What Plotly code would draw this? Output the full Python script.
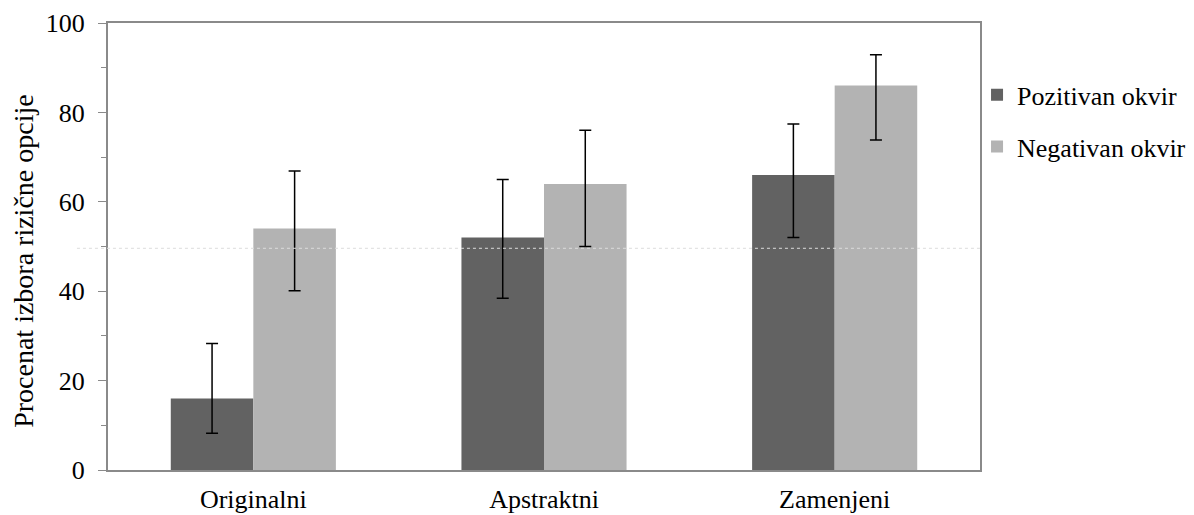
import plotly.graph_objects as go

categories = ["Originalni", "Apstraktni", "Zamenjeni"]
series_names = ["Pozitivan okvir", "Negativan okvir"]
pozitivan = [16, 52, 66]
pozitivan_err_plus = [12.3, 13.0, 11.4]
pozitivan_err_minus = [7.8, 13.6, 14.0]
negativan = [54, 64, 86]
negativan_err_plus = [12.9, 12.0, 6.9]
negativan_err_minus = [13.9, 14.0, 12.2]
reference_level = [49.6]
y_ticks = [0, 20, 40, 60, 80, 100]
y_title = "Procenat izbora rizične opcije"

FONT = "Liberation Serif, Times New Roman, serif"
FS = 26

fig = go.Figure()
fig.add_trace(go.Bar(
    name=series_names[0], x=categories, y=pozitivan,
    marker=dict(color="#626262", line=dict(width=0)),
    error_y=dict(type="data", symmetric=False, array=pozitivan_err_plus,
                 arrayminus=pozitivan_err_minus, color="black", thickness=1.5, width=6),
    legendgroup="a",
))
fig.add_trace(go.Bar(
    name=series_names[1], x=categories, y=negativan,
    marker=dict(color="#b3b3b3", line=dict(width=0)),
    error_y=dict(type="data", symmetric=False, array=negativan_err_plus,
                 arrayminus=negativan_err_minus, color="black", thickness=1.5, width=6),
    legendgroup="b",
))

fig.add_shape(type="line", xref="paper", yref="y",
              x0=-0.0356, x1=1.0034, y0=reference_level[0], y1=reference_level[0],
              line=dict(color="#dcdcdc", width=1, dash="dot"), layer="above")

fig.add_annotation(text=y_title, xref="paper", yref="paper",
                   x=-0.0963, y=0.468, xanchor="center", yanchor="middle",
                   textangle=-90, showarrow=False,
                   font=dict(family=FONT, size=28, color="black"))

fig.update_layout(
    width=1186, height=507,
    margin=dict(l=100, r=214, t=15, b=45, autoexpand=False),
    plot_bgcolor="white", paper_bgcolor="white",
    barmode="group", bargap=0.432, bargroupgap=0,
    font=dict(family=FONT, size=FS, color="black"),
    legend=dict(x=0.9966, y=0.892, xanchor="left", yanchor="top",
                font=dict(family=FONT, size=FS), tracegroupgap=15,
                itemwidth=30, bgcolor="rgba(0,0,0,0)"),
    showlegend=True,
)
fig.update_xaxes(
    automargin=False,
    showline=True, linecolor="#8a8a8a", linewidth=2, mirror=True,
    ticks="", tickfont=dict(family=FONT, size=FS), ticklabelstandoff=5,
)
fig.update_yaxes(
    automargin=False,
    range=[0, 100], tickvals=y_ticks, showgrid=False, zeroline=False,
    showline=True, linecolor="#8a8a8a", linewidth=2, mirror=True,
    ticks="outside", ticklen=8, tickcolor="#8a8a8a", tickwidth=1,
    minor=dict(dtick=10, ticks="outside", ticklen=5, tickcolor="#8a8a8a", tickwidth=1),
    tickfont=dict(family=FONT, size=FS), ticklabelstandoff=8,
)

fig.write_html("out.html")
